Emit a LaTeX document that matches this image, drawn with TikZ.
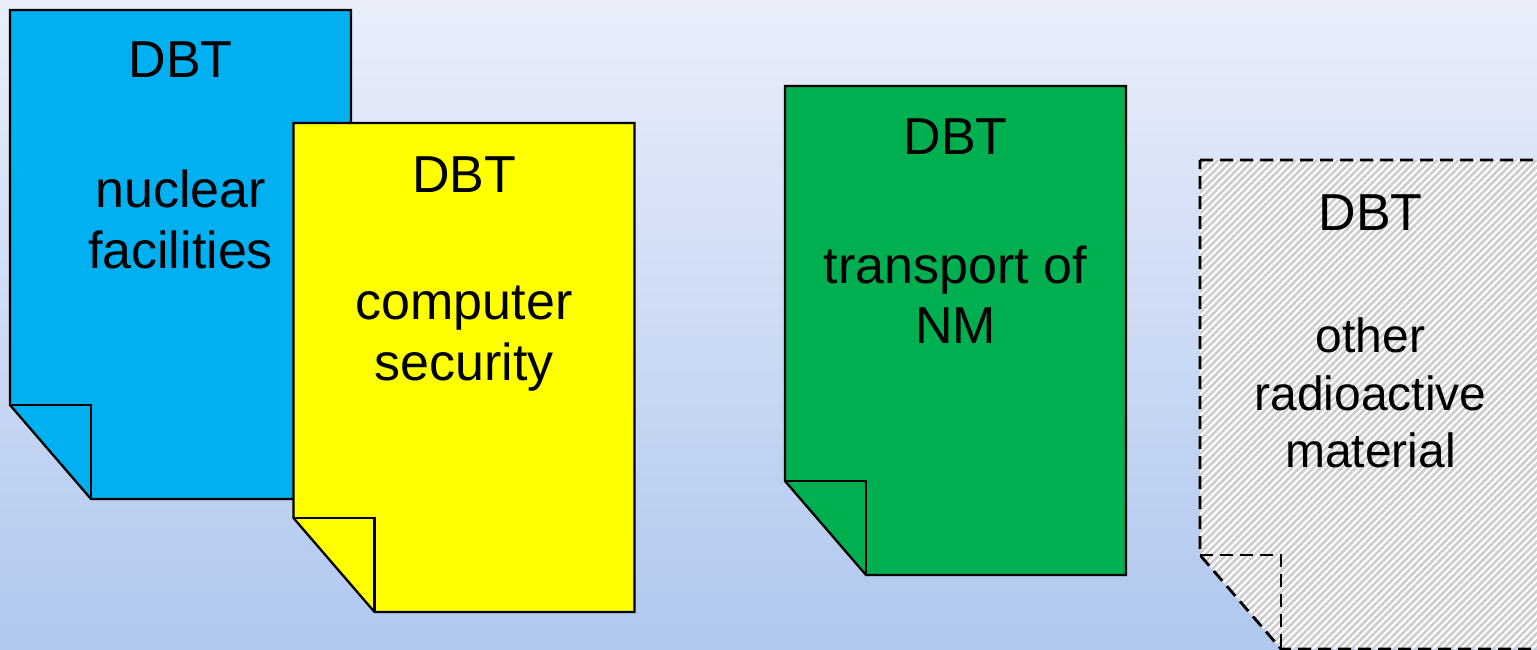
\documentclass[tikz,border=0pt]{standalone}
\usepackage{fontspec}
\setmainfont{Liberation Sans}
\usetikzlibrary{patterns.meta}

\definecolor{bgtop}{RGB}{233,238,250}
\definecolor{bgbottom}{RGB}{176,199,239}
\definecolor{sheetblue}{RGB}{0,176,240}
\definecolor{sheetyellow}{RGB}{255,255,0}
\definecolor{sheetgreen}{RGB}{0,176,80}
\definecolor{stripe}{RGB}{205,205,205}

% A sheet of paper with its lower-left corner folded over.
% #1 = left edge, #2 = top edge, #3 = sheet style, #4 = fold line style
\newcommand{\foldsheet}[4]{%
  \draw[#3] (#1,#2) -- ++(341,0) -- ++(0,489) -- ++(-260,0) -- ++(-81,-94) -- cycle;
  \draw[#4] (#1,#2) ++(0,395) -- ++(81,0) -- ++(0,94);
}

\tikzset{
  edge/.style={draw=black, line width=2.3pt, line join=miter},
  dashededge/.style={draw=black, line width=2.8pt, dash pattern=on 13pt off 7pt},
  solidsheet/.style={edge, fill=#1},
  hatchsheet/.style={dashededge,
    preaction={fill=white},
    pattern={Lines[angle=45,distance=5pt,line width=2.6pt]}, pattern color=stripe},
  label/.style={inner sep=0pt, anchor=base, font=\fontsize{52}{60}\selectfont, text=black},
  smalllabel/.style={label, font=\fontsize{48}{58}\selectfont},
}

\begin{document}
\begin{tikzpicture}[x=1pt,y=-1pt]
  \useasboundingbox (0,0) rectangle (1537,650);
  \clip (0,0) rectangle (1537,650);
  \shade[top color=bgtop, bottom color=bgbottom] (0,0) rectangle (1537,650);

  % nuclear facilities
  \foldsheet{10}{10}{solidsheet=sheetblue}{edge}
  \node[label] (blueDBT) at (180.5,78) {DBT};
  \node[label] (blueA) at (180.5,207) {nuclear};
  \node[label] (blueB) at (180.5,268) {facilities};

  % computer security
  \foldsheet{293.5}{123}{solidsheet=sheetyellow}{edge}
  \node[label] (yelDBT) at (464,192) {DBT};
  \node[label] (yelA) at (464,319) {computer};
  \node[label] (yelB) at (464,380) {security};

  % transport of NM
  \foldsheet{785}{86}{solidsheet=sheetgreen}{edge}
  \node[label] (grnDBT) at (955.5,155) {DBT};
  \node[label] (grnA) at (955.5,283) {transport of};
  \node[label] (grnB) at (955.5,343) {NM};

  % other radioactive material
  \foldsheet{1200}{160}{hatchsheet}{dashededge}
  \node[label] (othDBT) at (1370.5,230) {DBT};
  \node[smalllabel] (othA) at (1370.5,352) {other};
  \node[smalllabel] (othB) at (1370.5,410) {radioactive};
  \node[smalllabel] (othC) at (1370.5,467) {material};
\end{tikzpicture}
\end{document}
